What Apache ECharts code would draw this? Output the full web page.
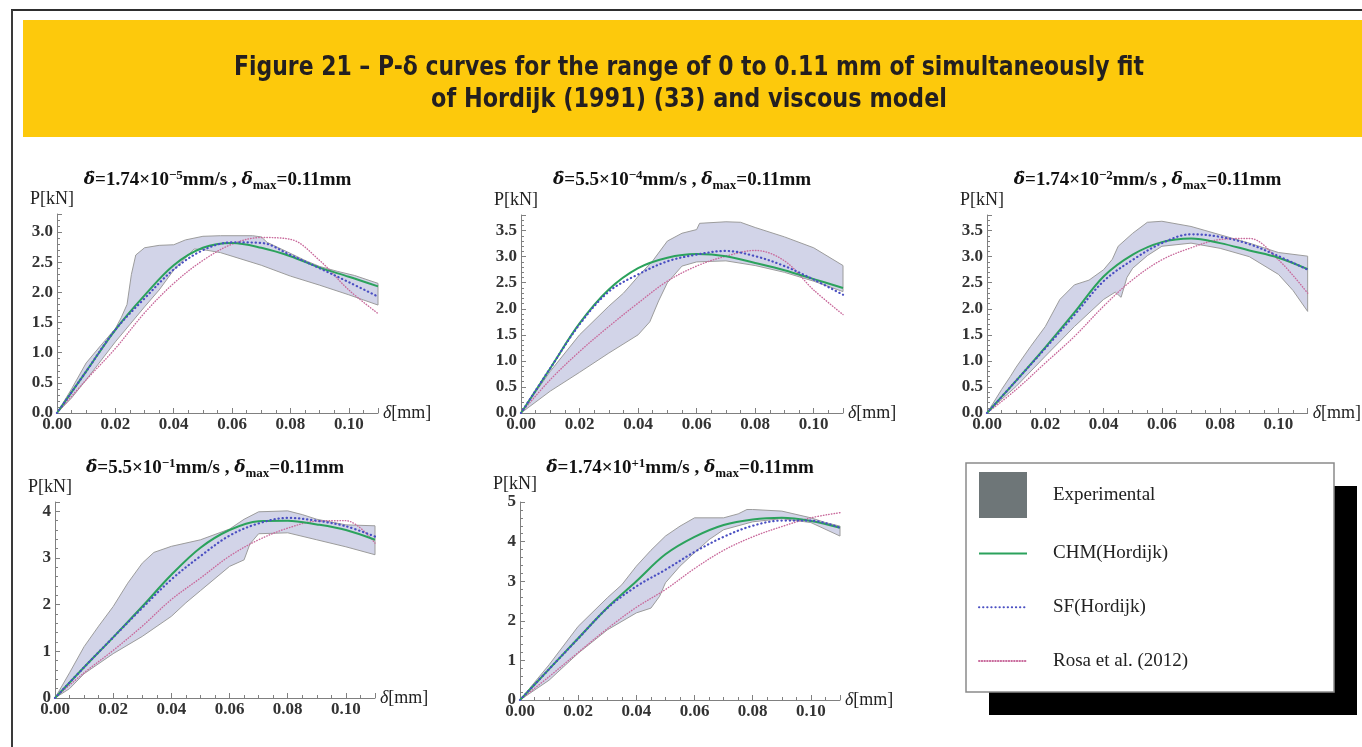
<!DOCTYPE html>
<html>
<head>
<meta charset="utf-8">
<script src="https://cdn.jsdelivr.net/npm/echarts@6/dist/echarts.min.js"></script>
<style>
  html, body { margin: 0; padding: 0; background: #ffffff; }
  #chart { width: 1362px; height: 747px; }
</style>
</head>
<body>
<div id="chart"></div>
<script>
// ---- Figure text ----
const figureTitleLines = [
  'Figure 21 – P-δ curves for the range of 0 to 0.11 mm of simultaneously fit',
  'of Hordijk (1991) (33) and viscous model'
];
const seriesNames = ['Experimental', 'CHM(Hordijk)', 'SF(Hordijk)', 'Rosa et al. (2012)'];

// ---- Loading rates of the five tests (mantissa ×10^exponent mm/s) ----
const rateMantissa = ['1.74', '5.5', '1.74', '5.5', '1.74'];
const rateExponent = ['−5', '−4', '−2', '−1', '+1'];
const deltaMax = '0.11';

// ---- Axis ranges / ticks ----
const deltaTicks = [0, 0.02, 0.04, 0.06, 0.08, 0.10];
const deltaAxisMax = 0.11;
const loadAxisMax = [3.3, 3.8, 3.8, 4.2, 5];
const loadTickStep = [0.5, 0.5, 0.5, 1, 1];

// ---- Model curves sampled at δ = 0, 0.01, ..., 0.11 mm ----
const deltaGrid = [0, 0.01, 0.02, 0.03, 0.04, 0.05, 0.06, 0.07, 0.08, 0.09, 0.10, 0.11];

const chm1  = [0, 0.69, 1.38, 1.95, 2.45, 2.74, 2.82, 2.74, 2.60, 2.41, 2.26, 2.10];
const sf1   = [0, 0.69, 1.38, 1.90, 2.38, 2.70, 2.83, 2.82, 2.62, 2.40, 2.17, 1.93];
const rosa1 = [0, 0.55, 1.07, 1.66, 2.15, 2.53, 2.80, 2.91, 2.88, 2.53, 2.04, 1.65];

const chm2  = [0, 0.86, 1.72, 2.37, 2.78, 2.98, 3.05, 3.01, 2.88, 2.74, 2.57, 2.40];
const sf2   = [0, 0.86, 1.70, 2.33, 2.66, 2.91, 3.04, 3.11, 3.01, 2.82, 2.56, 2.27];
const rosa2 = [0, 0.64, 1.18, 1.66, 2.11, 2.53, 2.82, 3.01, 3.12, 2.92, 2.36, 1.89];

const chm3  = [0, 0.62, 1.26, 1.93, 2.62, 3.04, 3.28, 3.35, 3.26, 3.12, 2.98, 2.76];
const sf3   = [0, 0.62, 1.24, 1.88, 2.53, 2.94, 3.26, 3.43, 3.38, 3.24, 3.01, 2.75];
const rosa3 = [0, 0.45, 0.96, 1.47, 2.05, 2.56, 2.94, 3.17, 3.33, 3.35, 2.94, 2.30];

const chm4  = [0, 0.66, 1.30, 1.96, 2.64, 3.22, 3.60, 3.79, 3.80, 3.72, 3.60, 3.39];
const sf4   = [0, 0.66, 1.30, 1.93, 2.54, 3.04, 3.48, 3.74, 3.86, 3.80, 3.68, 3.46];
const rosa4 = [0, 0.54, 1.02, 1.54, 2.11, 2.57, 3.04, 3.39, 3.64, 3.79, 3.80, 3.32];

const chm5  = [0, 0.78, 1.56, 2.33, 3.00, 3.68, 4.12, 4.42, 4.56, 4.60, 4.52, 4.35];
const sf5   = [0, 0.78, 1.55, 2.32, 2.87, 3.29, 3.74, 4.12, 4.40, 4.53, 4.53, 4.35];
const rosa5 = [0, 0.59, 1.20, 1.80, 2.34, 2.79, 3.32, 3.78, 4.12, 4.38, 4.60, 4.73];

// ---- Experimental envelopes [δ (mm), P (kN)] ----
const expUpper1 = [[0,0],[0.005,0.40],[0.01,0.83],[0.015,1.12],[0.02,1.40],[0.022,1.58],[0.024,1.80],[0.0255,2.30],[0.027,2.62],[0.03,2.74],[0.035,2.78],[0.04,2.79],[0.044,2.87],[0.05,2.93],[0.056,2.94],[0.067,2.94],[0.07,2.92],[0.072,2.83],[0.079,2.67],[0.085,2.53],[0.09,2.43],[0.096,2.35],[0.102,2.28],[0.11,2.15]];
const expLower1 = [[0,0],[0.005,0.25],[0.01,0.55],[0.02,1.18],[0.025,1.47],[0.03,1.76],[0.035,2.04],[0.04,2.37],[0.045,2.62],[0.047,2.72],[0.05,2.71],[0.056,2.66],[0.06,2.60],[0.07,2.45],[0.08,2.27],[0.09,2.12],[0.10,1.96],[0.11,1.79]];

const expUpper2 = [[0,0],[0.01,0.80],[0.02,1.50],[0.03,2.05],[0.035,2.30],[0.04,2.62],[0.045,2.92],[0.05,3.30],[0.055,3.45],[0.06,3.52],[0.061,3.64],[0.07,3.67],[0.075,3.66],[0.08,3.56],[0.09,3.38],[0.10,3.17],[0.11,2.83]];
const expLower2 = [[0,0],[0.01,0.42],[0.02,0.78],[0.03,1.15],[0.04,1.50],[0.044,1.75],[0.047,2.15],[0.05,2.50],[0.055,2.82],[0.06,2.90],[0.07,2.92],[0.08,2.83],[0.09,2.70],[0.10,2.53],[0.11,2.33]];

const expUpper3 = [[0,0],[0.005,0.45],[0.008,0.70],[0.01,0.88],[0.015,1.28],[0.02,1.66],[0.025,2.18],[0.03,2.46],[0.035,2.55],[0.04,2.75],[0.043,2.95],[0.045,3.20],[0.05,3.45],[0.055,3.66],[0.06,3.68],[0.07,3.58],[0.08,3.42],[0.09,3.26],[0.10,3.08],[0.11,3.01]];
const expLower3 = [[0,0],[0.005,0.26],[0.01,0.51],[0.02,1.09],[0.03,1.66],[0.04,2.18],[0.044,2.32],[0.046,2.22],[0.048,2.60],[0.05,2.78],[0.055,3.02],[0.06,3.20],[0.07,3.26],[0.08,3.16],[0.09,3.00],[0.10,2.66],[0.105,2.35],[0.11,1.95]];

const expUpper4 = [[0,0],[0.005,0.54],[0.01,1.10],[0.015,1.54],[0.02,1.96],[0.025,2.46],[0.03,2.89],[0.034,3.12],[0.04,3.25],[0.05,3.39],[0.06,3.62],[0.065,3.83],[0.07,3.99],[0.08,4.01],[0.085,3.93],[0.09,3.83],[0.10,3.71],[0.11,3.69]];
const expLower4 = [[0,0],[0.005,0.20],[0.01,0.52],[0.02,0.95],[0.03,1.32],[0.04,1.75],[0.045,2.04],[0.05,2.30],[0.06,2.82],[0.065,2.96],[0.067,3.30],[0.07,3.52],[0.08,3.54],[0.09,3.39],[0.10,3.24],[0.11,3.07]];

const expUpper5 = [[0,0],[0.01,0.89],[0.02,1.86],[0.03,2.58],[0.035,2.91],[0.04,3.38],[0.045,3.78],[0.05,4.14],[0.055,4.39],[0.06,4.60],[0.07,4.60],[0.075,4.70],[0.078,4.81],[0.08,4.81],[0.09,4.77],[0.10,4.60],[0.105,4.48],[0.11,4.39]];
const expLower5 = [[0,0],[0.01,0.50],[0.02,1.18],[0.03,1.77],[0.04,2.20],[0.045,2.32],[0.048,2.62],[0.05,2.96],[0.055,3.38],[0.06,3.72],[0.065,4.05],[0.07,4.30],[0.08,4.50],[0.09,4.58],[0.10,4.48],[0.11,4.14]];

const chmCurves  = [chm1, chm2, chm3, chm4, chm5];
const sfCurves   = [sf1, sf2, sf3, sf4, sf5];
const rosaCurves = [rosa1, rosa2, rosa3, rosa4, rosa5];
const expUppers  = [expUpper1, expUpper2, expUpper3, expUpper4, expUpper5];
const expLowers  = [expLower1, expLower2, expLower3, expLower4, expLower5];

// ---- Layout of the five panels (pixels) ----
const panelBoxes = [
  { left: 57,  top: 214, width: 321, height: 199 },
  { left: 521, top: 215, width: 322, height: 198 },
  { left: 987, top: 215, width: 321, height: 198 },
  { left: 55,  top: 502, width: 320, height: 196 },
  { left: 520, top: 502, width: 320, height: 198 }
];
const titleRowY = [180, 180, 180, 468, 468];
const legendBox = { x: 966, y: 463, width: 368, height: 229, shadow: 23 };

const SERIF = '"Liberation Serif", "Times New Roman", serif';
const AXIS_GRAY = '#808080';
const COLORS = {
  band: '#d2d4e8', bandEdge: '#9c9c9c', bandLegend: '#6e7678',
  chm: '#2ba25c', sf: '#4a4fc2', rosa: '#c96a9c'
};

function onStep(v, step) {
  const r = v / step;
  return Math.abs(r - Math.round(r)) < 1e-6;
}

const grids = [], xAxes = [], yAxes = [], titles = [], series = [];

const titleRich = {
  d:   { fontFamily: '"DejaVu Serif", serif', fontSize: 17, fontWeight: 'bold', fontStyle: 'italic', color: '#111', lineHeight: 24, verticalAlign: 'middle' },
  b:   { fontFamily: SERIF, fontSize: 19, fontWeight: 'bold', color: '#111', lineHeight: 24, verticalAlign: 'middle' },
  sup: { fontFamily: SERIF, fontSize: 13, fontWeight: 'bold', color: '#111', lineHeight: 24, verticalAlign: 'top', padding: [1, 0, 0, 0] },
  sub: { fontFamily: SERIF, fontSize: 13, fontWeight: 'bold', color: '#111', lineHeight: 24, verticalAlign: 'bottom', padding: [0, 0, 0, 0] }
};

panelBoxes.forEach((box, i) => {
  grids.push({ left: box.left, top: box.top, width: box.width, height: box.height, containLabel: false });

  xAxes.push({
    gridIndex: i, type: 'value', min: 0, max: deltaAxisMax, interval: 0.02,
    name: '{i|δ}[mm]', nameLocation: 'end', nameGap: 5,
    nameTextStyle: {
      fontFamily: SERIF, fontSize: 18, color: '#222',
      rich: { i: { fontFamily: SERIF, fontSize: 18, fontStyle: 'italic', color: '#222' } }
    },
    axisLine: { onZero: false, lineStyle: { color: AXIS_GRAY, width: 1 } },
    axisTick: { show: true, inside: true, length: 5, lineStyle: { color: AXIS_GRAY } },
    minorTick: { show: true, splitNumber: 4, length: 3, lineStyle: { color: AXIS_GRAY } },
    splitLine: { show: false },
    axisLabel: {
      margin: 3, fontFamily: SERIF, fontSize: 17, fontWeight: 'bold', color: '#333',
      formatter: v => (deltaTicks.some(t => Math.abs(t - v) < 1e-9) ? v.toFixed(2) : '')
    }
  });

  const step = loadTickStep[i];
  yAxes.push({
    gridIndex: i, type: 'value', min: 0, max: loadAxisMax[i], interval: step,
    name: 'P[kN]', nameLocation: 'end', nameGap: 6,
    nameTextStyle: { fontFamily: SERIF, fontSize: 18, color: '#222', align: 'center', padding: [0, 10, 0, 0] },
    axisLine: { show: true, onZero: false, lineStyle: { color: AXIS_GRAY, width: 1 } },
    axisTick: { show: true, inside: true, length: 5, lineStyle: { color: AXIS_GRAY } },
    minorTick: { show: true, splitNumber: 5, length: 3, lineStyle: { color: AXIS_GRAY } },
    splitLine: { show: false },
    axisLabel: {
      margin: 4, fontFamily: SERIF, fontSize: 17, fontWeight: 'bold', color: '#333',
      formatter: v => (onStep(v, step) ? (step < 1 ? v.toFixed(1) : v.toFixed(0)) : '')
    }
  });

  titles.push({
    text: '{d|δ̇}{b|=' + rateMantissa[i] + '×10}{sup|' + rateExponent[i] + '}{b|mm/s , }{d|δ}{sub|max}{b|=' + deltaMax + 'mm}',
    left: box.left + box.width / 2, top: titleRowY[i] - 12, textAlign: 'center', padding: 0,
    textStyle: { rich: titleRich }
  });

  // experimental scatter envelope: polygon through upper edge, back along lower edge
  const ring = expUppers[i].concat(expLowers[i].slice().reverse());
  series.push({
    type: 'custom', name: seriesNames[0], xAxisIndex: i, yAxisIndex: i,
    data: ring, encode: { x: 0, y: 1 }, z: 1, silent: true,
    itemStyle: { color: COLORS.bandLegend },
    renderItem: (params, api) => {
      if (params.dataIndex !== 0) return null;
      return {
        type: 'polygon',
        shape: { points: ring.map(p => api.coord(p)) },
        style: { fill: COLORS.band, stroke: COLORS.bandEdge, lineWidth: 1 }
      };
    }
  });

  const pairs = arr => deltaGrid.map((d, k) => [d, arr[k]]);

  series.push({
    type: 'line', name: seriesNames[3], xAxisIndex: i, yAxisIndex: i, z: 2,
    data: pairs(rosaCurves[i]), smooth: 0.35, symbol: 'none', silent: true,
    lineStyle: { color: COLORS.rosa, width: 1.4, type: [0.5, 2.2], cap: 'round' },
    itemStyle: { color: COLORS.rosa }
  });
  series.push({
    type: 'line', name: seriesNames[1], xAxisIndex: i, yAxisIndex: i, z: 3,
    data: pairs(chmCurves[i]), smooth: 0.35, symbol: 'none', silent: true,
    lineStyle: { color: COLORS.chm, width: 2 },
    itemStyle: { color: COLORS.chm }
  });
  series.push({
    type: 'line', name: seriesNames[2], xAxisIndex: i, yAxisIndex: i, z: 4,
    data: pairs(sfCurves[i]), smooth: 0.35, symbol: 'none', silent: true,
    lineStyle: { color: COLORS.sf, width: 2.2, type: [0.3, 3.8], cap: 'round' },
    itemStyle: { color: COLORS.sf }
  });
});

// Figure heading: condensed bold sans, squeezed horizontally to its measured width
const headingFont = 'bold 27px "DejaVu Sans", sans-serif';
const headingWidths = [910, 516];
const measureCtx = document.createElement('canvas').getContext('2d');
measureCtx.font = headingFont;
const headingElements = figureTitleLines.map((line, k) => {
  const w = measureCtx.measureText(line).width || headingWidths[k];
  return {
    type: 'text', x: 689, y: k === 0 ? 68 : 100, scaleX: headingWidths[k] / w, scaleY: 1, z: 10,
    style: {
      text: line, font: headingFont, fill: '#231f20',
      align: 'center', verticalAlign: 'middle', textAlign: 'center', textVerticalAlign: 'middle'
    }
  };
});

// legend swatches for the curves are bare line samples (no marker)
const lineSwatch = { opacity: 0 };

const option = {
  animation: false,
  backgroundColor: '#ffffff',
  title: titles,
  grid: grids,
  xAxis: xAxes,
  yAxis: yAxes,
  legend: {
    orient: 'vertical', left: legendBox.x, top: legendBox.y, z: 10,
    itemWidth: 48, itemHeight: 46, itemGap: 17,
    padding: [9, 146, 6, 12],
    selectedMode: false,
    textStyle: { fontFamily: SERIF, fontSize: 19, color: '#222', padding: [0, 0, 0, 21] },
    data: [
      { name: seriesNames[0], icon: 'rect', itemStyle: { color: COLORS.bandLegend } },
      { name: seriesNames[1], itemStyle: lineSwatch },
      { name: seriesNames[2], itemStyle: lineSwatch },
      { name: seriesNames[3], itemStyle: lineSwatch }
    ]
  },
  graphic: [
    { type: 'rect', shape: { x: 23, y: 20, width: 1339, height: 117 }, style: { fill: '#fdc90c' }, z: 0 },
    { type: 'line', shape: { x1: 11, y1: 10, x2: 1362, y2: 10 }, style: { stroke: '#2e2e2e', lineWidth: 2 }, z: 0 },
    { type: 'line', shape: { x1: 12, y1: 10, x2: 12, y2: 747 }, style: { stroke: '#3a3a3a', lineWidth: 2 }, z: 0 },
    // legend frame with its solid drop shadow
    { type: 'rect', shape: { x: legendBox.x + legendBox.shadow, y: legendBox.y + legendBox.shadow, width: legendBox.width, height: legendBox.height }, style: { fill: '#000000' }, z: 0 },
    { type: 'rect', shape: { x: legendBox.x, y: legendBox.y, width: legendBox.width, height: legendBox.height }, style: { fill: '#ffffff', stroke: '#8a8a8a', lineWidth: 1.5 }, z: 1 }
  ].concat(headingElements),
  series: series
};

const chart = echarts.init(document.getElementById('chart'), null, { renderer: 'canvas' });
chart.setOption(option);
</script>
</body>
</html>
